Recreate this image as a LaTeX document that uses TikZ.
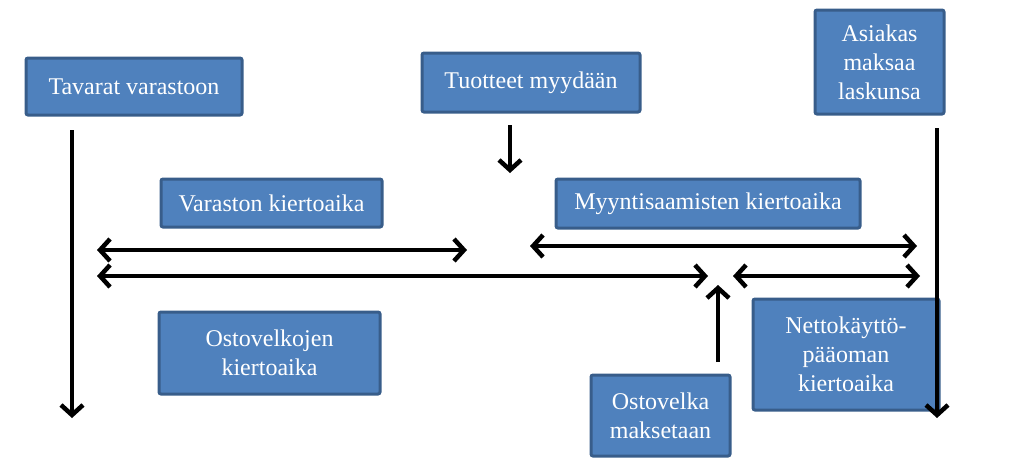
\documentclass[tikz,border=0pt]{standalone}
\usepackage{fontspec}
\setmainfont{Liberation Serif}
\usetikzlibrary{arrows.meta}
\definecolor{boxfill}{HTML}{4F81BD}
\definecolor{boxline}{HTML}{385D8A}
\tikzset{
  box/.style={draw=boxline, fill=boxfill, line width=3pt, rounded corners=2pt,
    text=white, font=\fontsize{24}{29}\selectfont, align=center, inner sep=0pt},
  tip/.tip={Straight Barb[length=10pt,width=22pt,line width=1pt 1]},
  arr/.style={line width=3.5pt, -tip},
  darr/.style={line width=3.5pt, tip-tip}
}
\begin{document}
\begin{tikzpicture}[x=1pt,y=-1pt]
\useasboundingbox (0,0) rectangle (1022,467);
% boxes
\node[box, minimum width=216pt, minimum height=57pt] (tv) at (134,86.5) {Tavarat varastoon};
\node[box, minimum width=218pt, minimum height=59pt] (tm) at (531,82.5) {Tuotteet myydään};
\node[box, minimum width=129pt, minimum height=104pt] (am) at (879.5,62) {Asiakas\\maksaa\\laskunsa};
\node[box, minimum width=221pt, minimum height=48pt] (vk) at (271.5,203) {Varaston kiertoaika};
\node[box, minimum width=304pt, minimum height=49pt] (mk) at (708,203.5) {Myyntisaamisten kiertoaika};
\node[box, minimum width=221pt, minimum height=82pt] (ok) at (269.5,353) {Ostovelkojen\\kiertoaika};
\node[box, minimum width=139pt, minimum height=81pt] (om) at (660.5,415.5) {Ostovelka\\maksetaan};
\node[box, minimum width=186pt, minimum height=111pt] (nk) at (846,354.5) {Nettokäyttö-\\pääoman\\kiertoaika};
% coordinates
\coordinate (l1) at (72,130); \coordinate (l2) at (72,418);
\coordinate (m1) at (510,125); \coordinate (m2) at (510,173);
\coordinate (r1) at (937,128); \coordinate (r2) at (937,418);
\coordinate (u1) at (718,362); \coordinate (u2) at (718,285);
\coordinate (a1) at (97,250); \coordinate (a2) at (467,250);
\coordinate (b1) at (530,246); \coordinate (b2) at (917,246);
\coordinate (c1) at (97,276); \coordinate (c2) at (708,276);
\coordinate (d1) at (733,276); \coordinate (d2) at (920,276);
% arrows
\draw[arr] (l1) -- (l2);
\draw[arr] (m1) -- (m2);
\draw[arr] (r1) -- (r2);
\draw[arr] (u1) -- (u2);
\draw[darr] (a1) -- (a2);
\draw[darr] (b1) -- (b2);
\draw[darr] (c1) -- (c2);
\draw[darr] (d1) -- (d2);
\end{tikzpicture}
\end{document}
